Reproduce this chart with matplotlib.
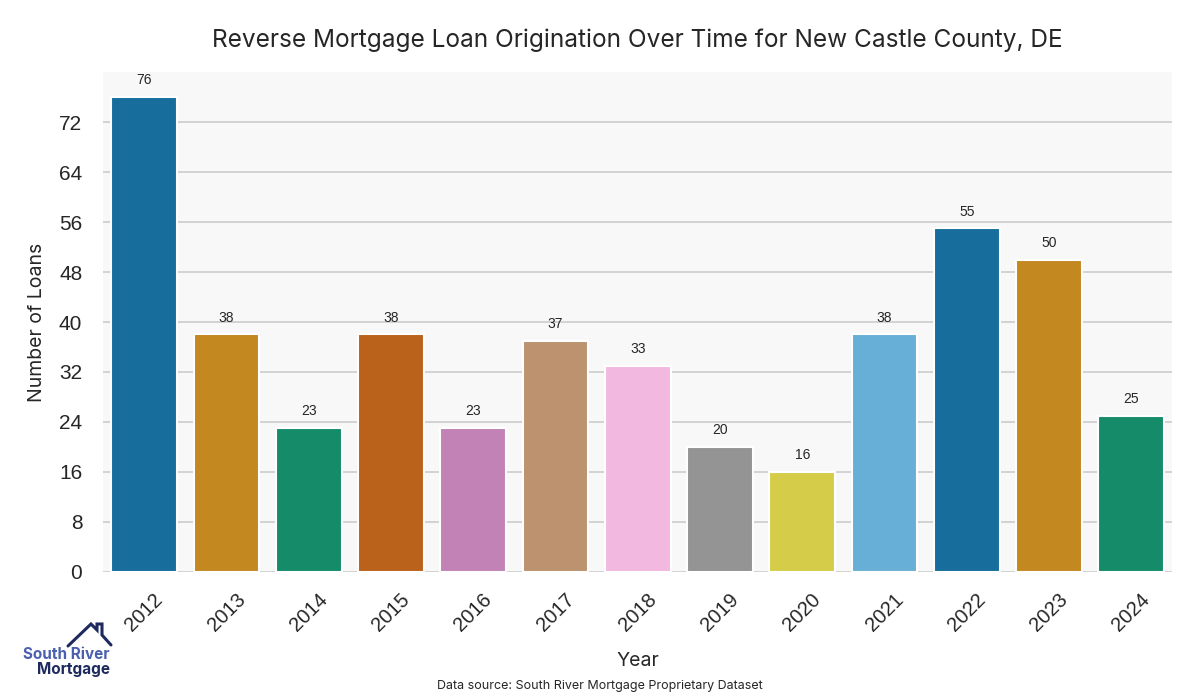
import matplotlib
matplotlib.use("Agg")
import matplotlib.pyplot as plt
import seaborn as sns
import pandas as pd
from matplotlib.lines import Line2D

years = ["2012", "2013", "2014", "2015", "2016", "2017", "2018",
         "2019", "2020", "2021", "2022", "2023", "2024"]
loans = [76, 38, 23, 38, 23, 37, 33, 20, 16, 38, 55, 50, 25]
yticks = [0, 8, 16, 24, 32, 40, 48, 56, 64, 72]

sns.set_theme(style="whitegrid")
plt.rcParams['font.family'] = ['Inter', 'DejaVu Sans']

df = pd.DataFrame({"Year": years, "Loans": loans})

fig = plt.figure(figsize=(12, 7), dpi=100)
ax = fig.add_axes([0.086, 0.183, 0.891, 0.714])
ax.set_facecolor("#f8f8f8")

sns.barplot(data=df, x="Year", y="Loans", hue="Year", palette="colorblind",
            legend=False, ax=ax, edgecolor="white", linewidth=1.5, width=0.8)

for c in ax.containers:
    ax.bar_label(c, padding=7, fontsize=10, color="#262626",
                 family=["Liberation Sans", "DejaVu Sans"])

ax.set_ylim(0, 80)
ax.set_xlim(-0.5, len(years) - 0.5)
ax.set_yticks(yticks)
ax.grid(axis="y", color="#cccccc", linewidth=1.2)
ax.grid(axis="x", visible=False)
for s in ax.spines.values():
    s.set_visible(False)

ax.tick_params(axis="y", length=0, labelsize=15, colors="#262626", pad=15)
ax.tick_params(axis="x", length=0, labelsize=14.5, colors="#262626", pad=13)
for lbl in ax.get_yticklabels():
    lbl.set_family(["Liberation Sans", "DejaVu Sans"])
for lbl in ax.get_xticklabels():
    lbl.set_family(["Liberation Sans", "DejaVu Sans"])
    lbl.set_rotation(45)
    lbl.set_ha("center")
    lbl.set_va("top")

ax.set_xlabel("Year", fontsize=14, color="#262626", labelpad=12)
ax.set_ylabel("Number of Loans", fontsize=14, color="#262626", labelpad=9)
ax.set_title("Reverse Mortgage Loan Origination Over Time for New Castle County, DE",
             fontsize=17.6, color="#262626", pad=18)

fig.text(0.5, 0.012, "Data source: South River Mortgage Proprietary Dataset",
         ha="center", va="bottom", fontsize=9, color="#262626")

# logo
fig.text(0.019, 0.0586, "South River", fontsize=11, color="#4a5fb0",
         fontweight="bold", ha="left", va="baseline")
fig.text(0.0308, 0.0371, "Mortgage", fontsize=11, color="#1e2a5e",
         fontweight="bold", ha="left", va="baseline")
px = [68, 91, 97, 97, 102, 102, 111]
py = [646, 624, 630, 624, 624, 635, 645]
fig.add_artist(Line2D([x / 1200 for x in px], [1 - y / 700 for y in py],
                      transform=fig.transFigure, color="#1e2a5e", lw=2.2,
                      solid_joinstyle="miter"))

fig.savefig("out.png", dpi=100)
